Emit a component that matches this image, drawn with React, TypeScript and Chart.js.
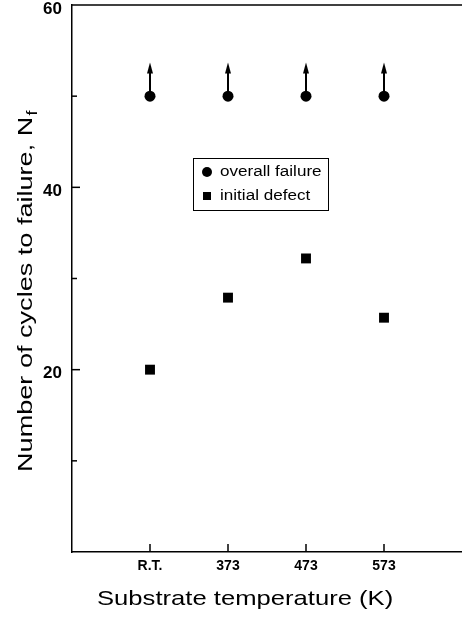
import React, { useEffect, useRef } from "react";
import { Chart, registerables } from "chart.js";
Chart.register(...registerables);

const categories = ["R.T.", "373", "473", "573"];
const overallFailure = [50, 50, 50, 50];
const overallArrowTo = [53.7, 53.7, 53.7, 53.7];
const initialDefect = [20, 27.9, 32.2, 25.7];
const yLabelTicks = [20, 40, 60];
const yMajorTicks = [20, 40];
const yMinorTicks = [10, 30, 50];
const seriesLabels = ["overall failure", "initial defect"];
const xTitle = "Substrate temperature (K)";
const yTitle = "Number of cycles to failure, N";
const yTitleSub = "f";

const FONT = '"Liberation Sans", Arial, sans-serif';

const decor = {
  id: "decor",
  beforeDatasetsDraw(chart: any) {
    const { ctx, scales } = chart;
    const x = scales.x;
    const y = scales.y;
    ctx.save();
    ctx.fillStyle = "#000";
    ctx.strokeStyle = "#000";
    overallArrowTo.forEach((v, i) => {
      const px = x.getPixelForValue(i);
      const y0 = y.getPixelForValue(overallFailure[i]);
      const y1 = y.getPixelForValue(v);
      ctx.lineWidth = 2;
      ctx.beginPath();
      ctx.moveTo(px, y0);
      ctx.lineTo(px, y1 + 8);
      ctx.stroke();
      ctx.beginPath();
      ctx.moveTo(px, y1);
      ctx.lineTo(px - 3, y1 + 11);
      ctx.lineTo(px + 3, y1 + 11);
      ctx.closePath();
      ctx.fill();
    });
    ctx.restore();
  },
  afterDraw(chart: any) {
    const { ctx, chartArea: ca, scales } = chart;
    const x = scales.x;
    const y = scales.y;
    ctx.save();
    ctx.strokeStyle = "#000";
    ctx.fillStyle = "#000";
    ctx.lineWidth = 1.5;
    const line = (a: number, b: number, c: number, d: number) => {
      ctx.beginPath();
      ctx.moveTo(a, b);
      ctx.lineTo(c, d);
      ctx.stroke();
    };
    line(ca.left, ca.top, ca.right, ca.top);
    yMajorTicks.forEach((v) => {
      const py = y.getPixelForValue(v);
      line(ca.left, py, ca.left + 8, py);
    });
    yMinorTicks.forEach((v) => {
      const py = y.getPixelForValue(v);
      line(ca.left, py, ca.left + 5, py);
    });
    categories.forEach((_, i) => {
      const px = x.getPixelForValue(i);
      line(px, ca.bottom, px, ca.bottom - 8);
    });

    // legend
    ctx.lineWidth = 1;
    ctx.strokeRect(193.5, 158.5, 135, 52);
    ctx.beginPath();
    ctx.arc(207, 172, 5, 0, Math.PI * 2);
    ctx.fill();
    ctx.fillRect(203, 192, 8, 8);
    ctx.font = `14px ${FONT}`;
    ctx.textAlign = "left";
    ctx.textBaseline = "middle";
    ctx.save();
    ctx.translate(220, 0);
    ctx.scale(1.22, 1);
    ctx.fillText(seriesLabels[0], 0, 172);
    ctx.fillText(seriesLabels[1], 0, 196);
    ctx.restore();

    // x title
    ctx.save();
    ctx.font = `21px ${FONT}`;
    ctx.textBaseline = "alphabetic";
    ctx.translate(97, 605);
    ctx.scale(1.22, 1);
    ctx.fillText(xTitle, 0, 0);
    ctx.restore();

    // y title
    ctx.translate(32, 472);
    ctx.rotate(-Math.PI / 2);
    ctx.scale(1.29, 1);
    ctx.font = `21px ${FONT}`;
    ctx.textBaseline = "alphabetic";
    ctx.fillText(yTitle, 0, 0);
    const w = ctx.measureText(yTitle).width;
    ctx.font = `14px ${FONT}`;
    ctx.fillText(yTitleSub, w + 1, 5);
    ctx.restore();
  },
};

export default function App() {
  const ref = useRef<HTMLCanvasElement | null>(null);
  useEffect(() => {
    if (!ref.current) return;
    const chart = new Chart(ref.current, {
      type: "scatter",
      data: {
        datasets: [
          {
            label: seriesLabels[0],
            data: overallFailure.map((v, i) => ({ x: i, y: v })),
            pointStyle: "circle",
            pointRadius: 5.5,
            backgroundColor: "#000",
            borderColor: "#000",
            borderWidth: 0,
          },
          {
            label: seriesLabels[1],
            data: initialDefect.map((v, i) => ({ x: i, y: v })),
            pointStyle: "rect",
            pointRadius: 7,
            backgroundColor: "#000",
            borderColor: "#000",
            borderWidth: 0,
          },
        ],
      },
      options: {
        animation: false,
        responsive: false,
        layout: { autoPadding: false, padding: { top: 5, right: 0, left: 0, bottom: 0 } },
        plugins: {
          legend: { display: false },
          tooltip: { enabled: false },
        },
        scales: {
          x: {
            type: "linear",
            min: -1,
            max: 4,
            grid: { display: false, drawTicks: false },
            border: { display: true, color: "#000", width: 1.5 },
            afterBuildTicks: (scale: any) => {
              scale.ticks = categories.map((_, i) => ({ value: i }));
            },
            afterFit: (scale: any) => {
              scale.height = 72;
              scale.paddingLeft = 0;
              scale.paddingRight = 0;
            },
            ticks: {
              padding: 6,
              color: "#000",
              font: { family: FONT, size: 14, weight: "bold" },
              callback: (v: any) => categories[v] ?? "",
            },
          },
          y: {
            type: "linear",
            min: 0,
            max: 60,
            grid: { display: false, drawTicks: false },
            border: { display: true, color: "#000", width: 1.5 },
            afterBuildTicks: (scale: any) => {
              scale.ticks = yLabelTicks.map((v) => ({ value: v }));
            },
            afterFit: (scale: any) => {
              scale.width = 72;
              scale.paddingTop = 0;
              scale.paddingBottom = 0;
            },
            ticks: {
              padding: 10,
              labelOffset: 4,
              color: "#000",
              font: { family: FONT, size: 17, weight: "bold" },
            },
          },
        },
      },
      plugins: [decor],
    });
    return () => chart.destroy();
  }, []);
  return (
    <div style={{ position: "fixed", left: 0, top: 0, width: 462, height: 624, background: "#fff" }}>
      <canvas ref={ref} width={462} height={624} style={{ width: 462, height: 624 }} />
    </div>
  );
}
